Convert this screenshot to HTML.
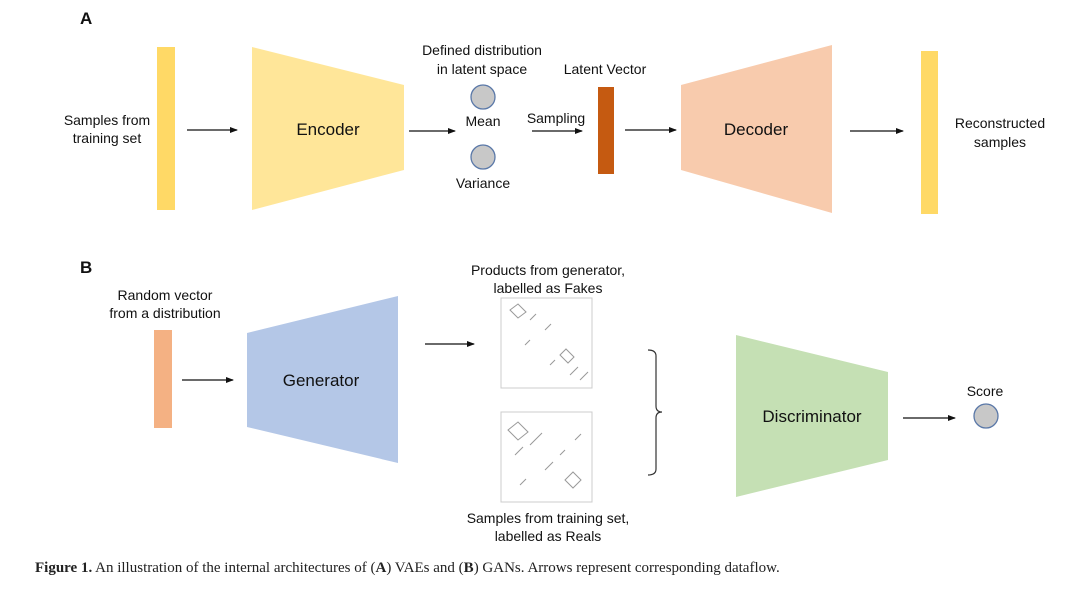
<!DOCTYPE html>
<html><head><meta charset="utf-8"><style>
html,body{margin:0;padding:0;background:#fff;}
svg{display:block;}
text{font-family:"Liberation Sans",Arial,sans-serif;fill:#111;}
</style></head><body>
<svg width="1080" height="590" viewBox="0 0 1080 590" xmlns="http://www.w3.org/2000/svg">
<defs>
<marker id="ah" markerWidth="8" markerHeight="8" refX="7" refY="4" orient="auto" markerUnits="userSpaceOnUse">
<path d="M0,1 L8,4 L0,7 z" fill="#111"/>
</marker>
</defs>
<g stroke="#111" stroke-width="1.3" marker-end="url(#ah)">
<line x1="187" y1="130" x2="237" y2="130"/>
<line x1="409" y1="131" x2="455" y2="131"/>
<line x1="532" y1="131" x2="582" y2="131"/>
<line x1="625" y1="130" x2="676" y2="130"/>
<line x1="850" y1="131" x2="903" y2="131"/>
<line x1="182" y1="380" x2="233" y2="380"/>
<line x1="425" y1="344" x2="474" y2="344"/>
<line x1="903" y1="418" x2="955" y2="418"/>
</g>
<text x="80" y="24" font-size="17" font-weight="bold">A</text>
<text x="80" y="273" font-size="17" font-weight="bold">B</text>

<rect x="157" y="47" width="18" height="163" fill="#FFD966"/>
<text x="107" y="125" font-size="14" text-anchor="middle">Samples from</text>
<text x="107" y="143" font-size="14" text-anchor="middle">training set</text>
<polygon points="252,47 404,85 404,170 252,210" fill="#FFE699"/>
<text x="328" y="135" font-size="17" text-anchor="middle">Encoder</text>
<text x="482" y="55" font-size="14" text-anchor="middle">Defined distribution</text>
<text x="482" y="74" font-size="14" text-anchor="middle">in latent space</text>
<circle cx="483" cy="97" r="12" fill="#c8c8c8" stroke="#5a78a8" stroke-width="1.3"/>
<circle cx="483" cy="157" r="12" fill="#c8c8c8" stroke="#5a78a8" stroke-width="1.3"/>
<text x="483" y="126" font-size="14" text-anchor="middle">Mean</text>
<text x="483" y="188" font-size="14" text-anchor="middle">Variance</text>
<text x="556" y="123" font-size="14" text-anchor="middle">Sampling</text>
<text x="605" y="74" font-size="14" text-anchor="middle">Latent Vector</text>
<rect x="598" y="87" width="16" height="87" fill="#C55A11"/>
<polygon points="681,85 832,45 832,213 681,170" fill="#F8CBAD"/>
<text x="756" y="135" font-size="17" text-anchor="middle">Decoder</text>
<rect x="921" y="51" width="17" height="163" fill="#FFD966"/>
<text x="1000" y="128" font-size="14" text-anchor="middle">Reconstructed</text>
<text x="1000" y="147" font-size="14" text-anchor="middle">samples</text>

<text x="165" y="300" font-size="14" text-anchor="middle">Random vector</text>
<text x="165" y="318" font-size="14" text-anchor="middle">from a distribution</text>
<rect x="154" y="330" width="18" height="98" fill="#F4B183"/>
<polygon points="247,333 398,296 398,463 247,427" fill="#B4C7E7"/>
<text x="321" y="386" font-size="17" text-anchor="middle">Generator</text>
<text x="548" y="275" font-size="14" text-anchor="middle">Products from generator,</text>
<text x="548" y="293" font-size="14" text-anchor="middle">labelled as Fakes</text>
<rect x="501" y="298" width="91" height="90" fill="#fff" stroke="#ccc"/>
<rect x="501" y="412" width="91" height="90" fill="#fff" stroke="#ccc"/>
<g stroke="#999" stroke-width="1" fill="none">
<path d="M510,310 l8,-6 l8,8 l-8,6 z M530,320 l6,-6 M545,330 l6,-6 M525,345 l5,-5 M560,355 l6,-6 l8,8 l-6,6 z M570,375 l8,-8 M550,365 l5,-5 M580,380 l8,-8"/>
<path d="M508,430 l10,-8 l10,10 l-10,8 z M530,445 l12,-12 M515,455 l8,-8 M545,470 l8,-8 M565,480 l8,-8 l8,8 l-8,8 z M575,440 l6,-6 M520,485 l6,-6 M560,455 l5,-5"/>
</g>
<text x="548" y="523" font-size="14" text-anchor="middle">Samples from training set,</text>
<text x="548" y="541" font-size="14" text-anchor="middle">labelled as Reals</text>
<path d="M648,350 Q656,350 656,356 L656,406 Q656,412 662,412 Q656,412 656,418 L656,469 Q656,475 648,475" fill="none" stroke="#333" stroke-width="1.2"/>
<polygon points="736,335 888,372 888,460 736,497" fill="#C5E0B4"/>
<text x="812" y="422" font-size="17" text-anchor="middle">Discriminator</text>
<text x="985" y="396" font-size="14" text-anchor="middle">Score</text>
<circle cx="986" cy="416" r="12" fill="#c8c8c8" stroke="#5a78a8" stroke-width="1.3"/>

<text x="35" y="572" font-size="15" style="font-family:'Liberation Serif',serif;fill:#222"><tspan font-weight="bold">Figure 1.</tspan> An illustration of the internal architectures of (<tspan font-weight="bold">A</tspan>) VAEs and (<tspan font-weight="bold">B</tspan>) GANs. Arrows represent corresponding dataflow.</text>
</svg>
</body></html>
